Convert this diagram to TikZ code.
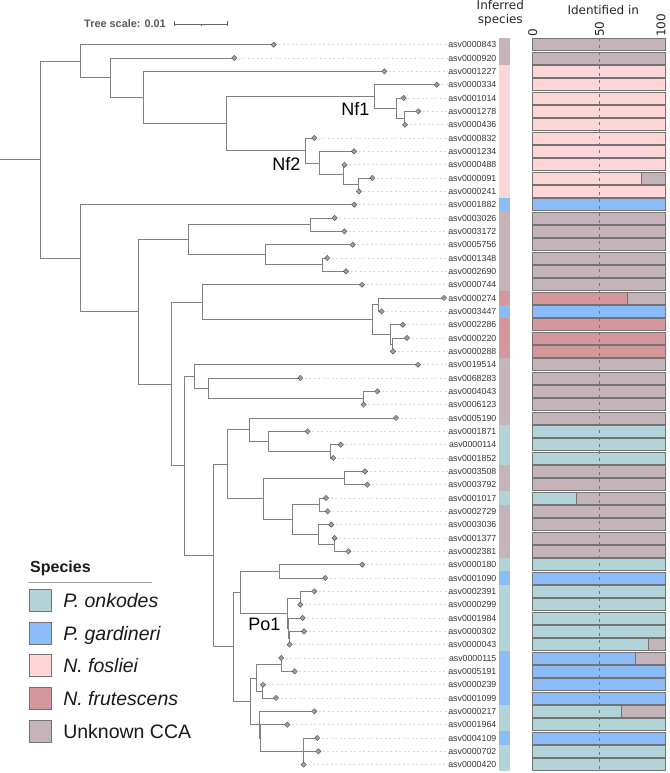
\documentclass[tikz,border=0pt]{standalone}
\usepackage{fontspec}
\setmainfont{Liberation Sans}
\newfontfamily\djvfont{DejaVu Sans}
\usetikzlibrary{calc,positioning,shapes.geometric}

% 物种颜色
\definecolor{onk}{HTML}{B2D4D8}
\definecolor{gar}{HTML}{8BBCF9}
\definecolor{fos}{HTML}{FFD6D8}
\definecolor{fru}{HTML}{D4979C}
\definecolor{unk}{HTML}{C4B4BA}
\definecolor{treegray}{HTML}{808080}

\tikzset{
  branch/.style={draw=treegray, line width=0.9pt},
  tipmark/.style={diamond, fill=gray!75, draw=gray!45!black, line width=0.3pt, minimum size=5.5pt, inner sep=0pt},
  leader/.style={gray!30, line width=0.5pt, dash pattern=on 2pt off 2.5pt},
  asvlabel/.style={anchor=east, inner sep=0pt, font=\fontsize{8.8}{10}\selectfont, text=black!80},
  bar/.style={draw=black!55, line width=0.6pt},
  cladelabel/.style={anchor=east, inner sep=0pt, font=\fontsize{18}{20}\selectfont},
  header/.style={anchor=base, inner sep=0pt, font=\djvfont\fontsize{12}{14}\selectfont, text=black!85},
  ticklabel/.style={rotate=90, anchor=west, inner sep=0pt, font=\djvfont\fontsize{12}{14}\selectfont, text=black!85},
  legbox/.style={draw=black!55, line width=0.8pt, minimum size=22pt, inner sep=0pt, outer sep=0pt},
  legtext/.style={inner sep=0pt, text height=14pt, text depth=0pt, font=\fontsize{19.5}{22}\selectfont, text=black!90},
}

% 分支节点: 名称, x, 子节点1, 子节点2
\newcommand{\mkclade}[4]{%
  \path ($(#3)!0.5!(#4)$) coordinate (#1m);
  \coordinate (#1) at (#2,0 |- #1m);
  \draw[branch] (#1) |- (#3);
  \draw[branch] (#1) |- (#4);
}

\begin{document}
\begin{tikzpicture}[x=1pt, y=-1pt]
    % 画布大小 669 x 773
    \useasboundingbox (0,0) rectangle (669,773);

    % 标尺
    \node[anchor=west, inner sep=0pt, font=\bfseries\fontsize{10.9}{12}\selectfont, text=black!65] (tscale) at (84,24) {Tree scale: 0.01};
    \coordinate (sb0) at (174.3,24);
    \coordinate (sb1) at (227.3,24);
    \draw[black!60, line width=0.8pt] (sb0) -- (sb1);
    \draw[black!60, line width=0.8pt] ([yshift=2.5pt]sb0) -- ([yshift=-2.5pt]sb0);
    \draw[black!60, line width=0.8pt] ([yshift=2.5pt]sb1) -- ([yshift=-2.5pt]sb1);
    \draw[black!60, line width=0.6pt] ($(sb0)!0.5!(sb1)$) -- ++(0,2);

    % 表头
    \node[header] (hinf) at (500.3,9.5) {Inferred};
    \node[header] (hspe) at (500.3,23.5) {species};
    \node[header] (hidn) at (603.3,14.3) {Identified in};
    \node[ticklabel] (x0) at (532.7,37) {0};
    \node[ticklabel] (x50) at (599.5,37) {50};
    \node[ticklabel] (x100) at (661,37) {100};

    % 叶节点: 行号/末端x/物种/比例/名称
    \foreach \n/\tx/\sp/\pc/\asv in {
      1/273.7/unk/100/asv0000843, 2/234.3/unk/100/asv0000920,
      3/384.3/fos/100/asv0001227, 4/436.7/fos/100/asv0000334,
      5/403.7/fos/100/asv0001014, 6/418.3/fos/100/asv0001278,
      7/405/fos/100/asv0000436, 8/314.3/fos/100/asv0000832,
      9/354/fos/100/asv0001234, 10/344.5/fos/100/asv0000488,
      11/372.3/fos/81.7/asv0000091, 12/358.8/fos/100/asv0000241,
      13/354.3/gar/100/asv0001882, 14/334.7/unk/100/asv0003026,
      15/344.3/unk/100/asv0003172, 16/352.7/unk/100/asv0005756,
      17/327.3/unk/100/asv0001348, 18/346/unk/100/asv0002690,
      19/362/unk/100/asv0000744, 20/444/fru/71.2/asv0000274,
      21/381.7/gar/100/asv0003447, 22/402.7/fru/100/asv0002286,
      23/407/fru/100/asv0000220, 24/393/fru/100/asv0000288,
      25/418/unk/100/asv0019514, 26/300.3/unk/100/asv0068283,
      27/377.3/unk/100/asv0004043, 28/363.6/unk/100/asv0006123,
      29/396/unk/100/asv0005190, 30/307.7/onk/100/asv0001871,
      31/340.7/onk/100/asv0000114, 32/333.3/onk/100/asv0001852,
      33/365/unk/100/asv0003508, 34/367.3/unk/100/asv0003792,
      35/326/onk/33/asv0001017, 36/327.7/unk/100/asv0002729,
      37/331.3/unk/100/asv0003036, 38/334.6/unk/100/asv0001377,
      39/348.3/unk/100/asv0002381, 40/362.3/onk/100/asv0000180,
      41/325.3/gar/100/asv0001090, 42/314.3/onk/100/asv0002391,
      43/300.3/onk/100/asv0000299, 44/302.7/onk/100/asv0001984,
      45/304/onk/100/asv0000302, 46/289.6/onk/87/asv0000043,
      47/281.3/gar/77.5/asv0000115, 48/294.7/gar/100/asv0005191,
      49/263/gar/100/asv0000239, 50/276/gar/100/asv0001099,
      51/314.3/onk/66.7/asv0000217, 52/287.3/onk/100/asv0001964,
      53/317.3/gar/100/asv0004109, 54/318.3/onk/100/asv0000702,
      55/303.6/onk/100/asv0000420} {
      \pgfmathsetmacro{\ry}{44.7+(\n-1)*13.333}
      \coordinate (t\n) at (\tx,\ry);
      \node[asvlabel] (l\n) at (496.5,\ry) {\asv};
      \draw[leader] (t\n) -- (l\n.west);
      % 物种色块
      \fill[\sp] (499,{\ry-6.67}) rectangle (510.3,{\ry+6.67});
      % 条形图
      \pgfmathsetmacro{\bx}{532.3+1.334*\pc}
      \draw[bar, fill=\sp] (532.3,{\ry-6}) rectangle (\bx,{\ry+6});
      \draw[bar, fill=unk] (\bx,{\ry-6}) rectangle (665.7,{\ry+6});
    }
    % 50% 虚线
    \draw[black!55, line width=0.7pt, dash pattern=on 3pt off 4pt] (599.5,38) -- (599.5,772);

    % 上部分支 (Nf1, Nf2)
    \mkclade{nfa}{404}{t6}{t7}
    \mkclade{nfb}{396.7}{t5}{nfa}
    \mkclade{nf1}{374.7}{t4}{nfb}
    \mkclade{nfd}{358.3}{t11}{t12}
    \mkclade{nfc}{343.7}{t10}{nfd}
    \mkclade{nfe}{319.7}{t9}{nfc}
    \mkclade{nf2}{305.3}{t8}{nfe}
    \mkclade{nfall}{226.7}{nf1}{nf2}
    \mkclade{u3}{143.3}{t3}{nfall}
    \mkclade{u2}{110.3}{t2}{u3}
    \mkclade{u1}{80.3}{t1}{u2}

    % 下部分支
    \mkclade{a1}{310.7}{t14}{t15}
    \mkclade{a3}{322.3}{t17}{t18}
    \mkclade{a2}{265.7}{t16}{a3}
    \mkclade{a0}{188.3}{a1}{a2}
    \mkclade{b1}{378.3}{t20}{t21}
    \mkclade{b3}{392.7}{t23}{t24}
    \mkclade{b2}{390.7}{t22}{b3}
    \mkclade{b0}{372.3}{b1}{b2}
    \mkclade{bb}{202.7}{t19}{b0}
    \mkclade{c3}{363.3}{t27}{t28}
    \mkclade{c2}{208}{t26}{c3}
    \mkclade{c1}{194.3}{t25}{c2}
    \mkclade{d3}{330}{t31}{t32}
    \mkclade{d2}{268.7}{t30}{d3}
    \mkclade{d1}{249.7}{t29}{d2}
    \mkclade{e1}{344.7}{t33}{t34}
    \mkclade{e3}{319.3}{t35}{t36}
    \mkclade{e5}{334.3}{t38}{t39}
    \mkclade{e4}{318.3}{t37}{e5}
    \mkclade{e2}{292}{e3}{e4}
    \mkclade{e0}{263.7}{e1}{e2}
    \mkclade{de}{227.7}{d1}{e0}
    \mkclade{f1}{279.3}{t40}{t41}
    \mkclade{p2}{300}{t42}{t43}
    \mkclade{p4}{289.3}{t45}{t46}
    \mkclade{p3}{288.7}{t44}{p4}
    \mkclade{po1}{287.3}{p2}{p3}
    \mkclade{f0}{240}{f1}{po1}
    \mkclade{g2}{281}{t47}{t48}
    \mkclade{g3}{262.7}{t49}{t50}
    \mkclade{g1}{256.7}{g2}{g3}
    \mkclade{h3}{303.3}{t53}{t55}
    \draw[branch] (h3) |- (t54);
    \mkclade{h2}{260.5}{t52}{h3}
    \mkclade{h1}{259.3}{t51}{h2}
    \mkclade{gh}{250.7}{g1}{h1}
    \mkclade{fg}{233.3}{f0}{gh}
    \mkclade{defg}{213.3}{de}{fg}
    \mkclade{cdefg}{184.3}{c1}{defg}
    \mkclade{bc}{171.7}{bb}{cdefg}
    \mkclade{ab}{138.3}{a0}{bc}
    \mkclade{l1}{80.3}{t13}{ab}
    \mkclade{root}{40}{u1}{l1}
    \coordinate (r0) at (0,0 |- root);
    \draw[branch] (r0) -- (root);

    % 末端菱形
    \foreach \n in {1,...,55} {
      \node[tipmark] (d\n) at (t\n) {};
    }

    % 分支标签
    \node[cladelabel] (nf1lbl) at ([xshift=-5.2pt, yshift=-12.7pt]nf1) {Nf1};
    \node[cladelabel] (nf2lbl) at ([xshift=-4.8pt, yshift=-13.5pt]nf2) {Nf2};
    \node[cladelabel] (po1lbl) at ([xshift=-6.8pt, yshift=-11pt]po1) {Po1};

    % 图例
    \node[anchor=base west, inner sep=0pt, font=\bfseries\fontsize{16}{18}\selectfont, text=black!90] (legtitle) at (30,572.7) {Species};
    \draw[gray!70, line width=0.8pt] (28.3,582.3) -- (152.3,582.3);
    \node[legbox, fill=onk] (konk) at (40.5,600.5) {};
    \node[legbox, fill=gar] (kgar) at (40.5,633.2) {};
    \node[legbox, fill=fos] (kfos) at (40.5,665.8) {};
    \node[legbox, fill=fru] (kfru) at (40.5,698.5) {};
    \node[legbox, fill=unk] (kunk) at (40.5,731.2) {};
    \node[legtext, right=11.6pt of konk] (tonk) {\textit{P. onkodes}};
    \node[legtext, right=11.6pt of kgar] (tgar) {\textit{P. gardineri}};
    \node[legtext, right=11.6pt of kfos] (tfos) {\textit{N. fosliei}};
    \node[legtext, right=11.6pt of kfru] (tfru) {\textit{N. frutescens}};
    \node[legtext, right=11.6pt of kunk] (tunk) {Unknown CCA};
\end{tikzpicture}
\end{document}
